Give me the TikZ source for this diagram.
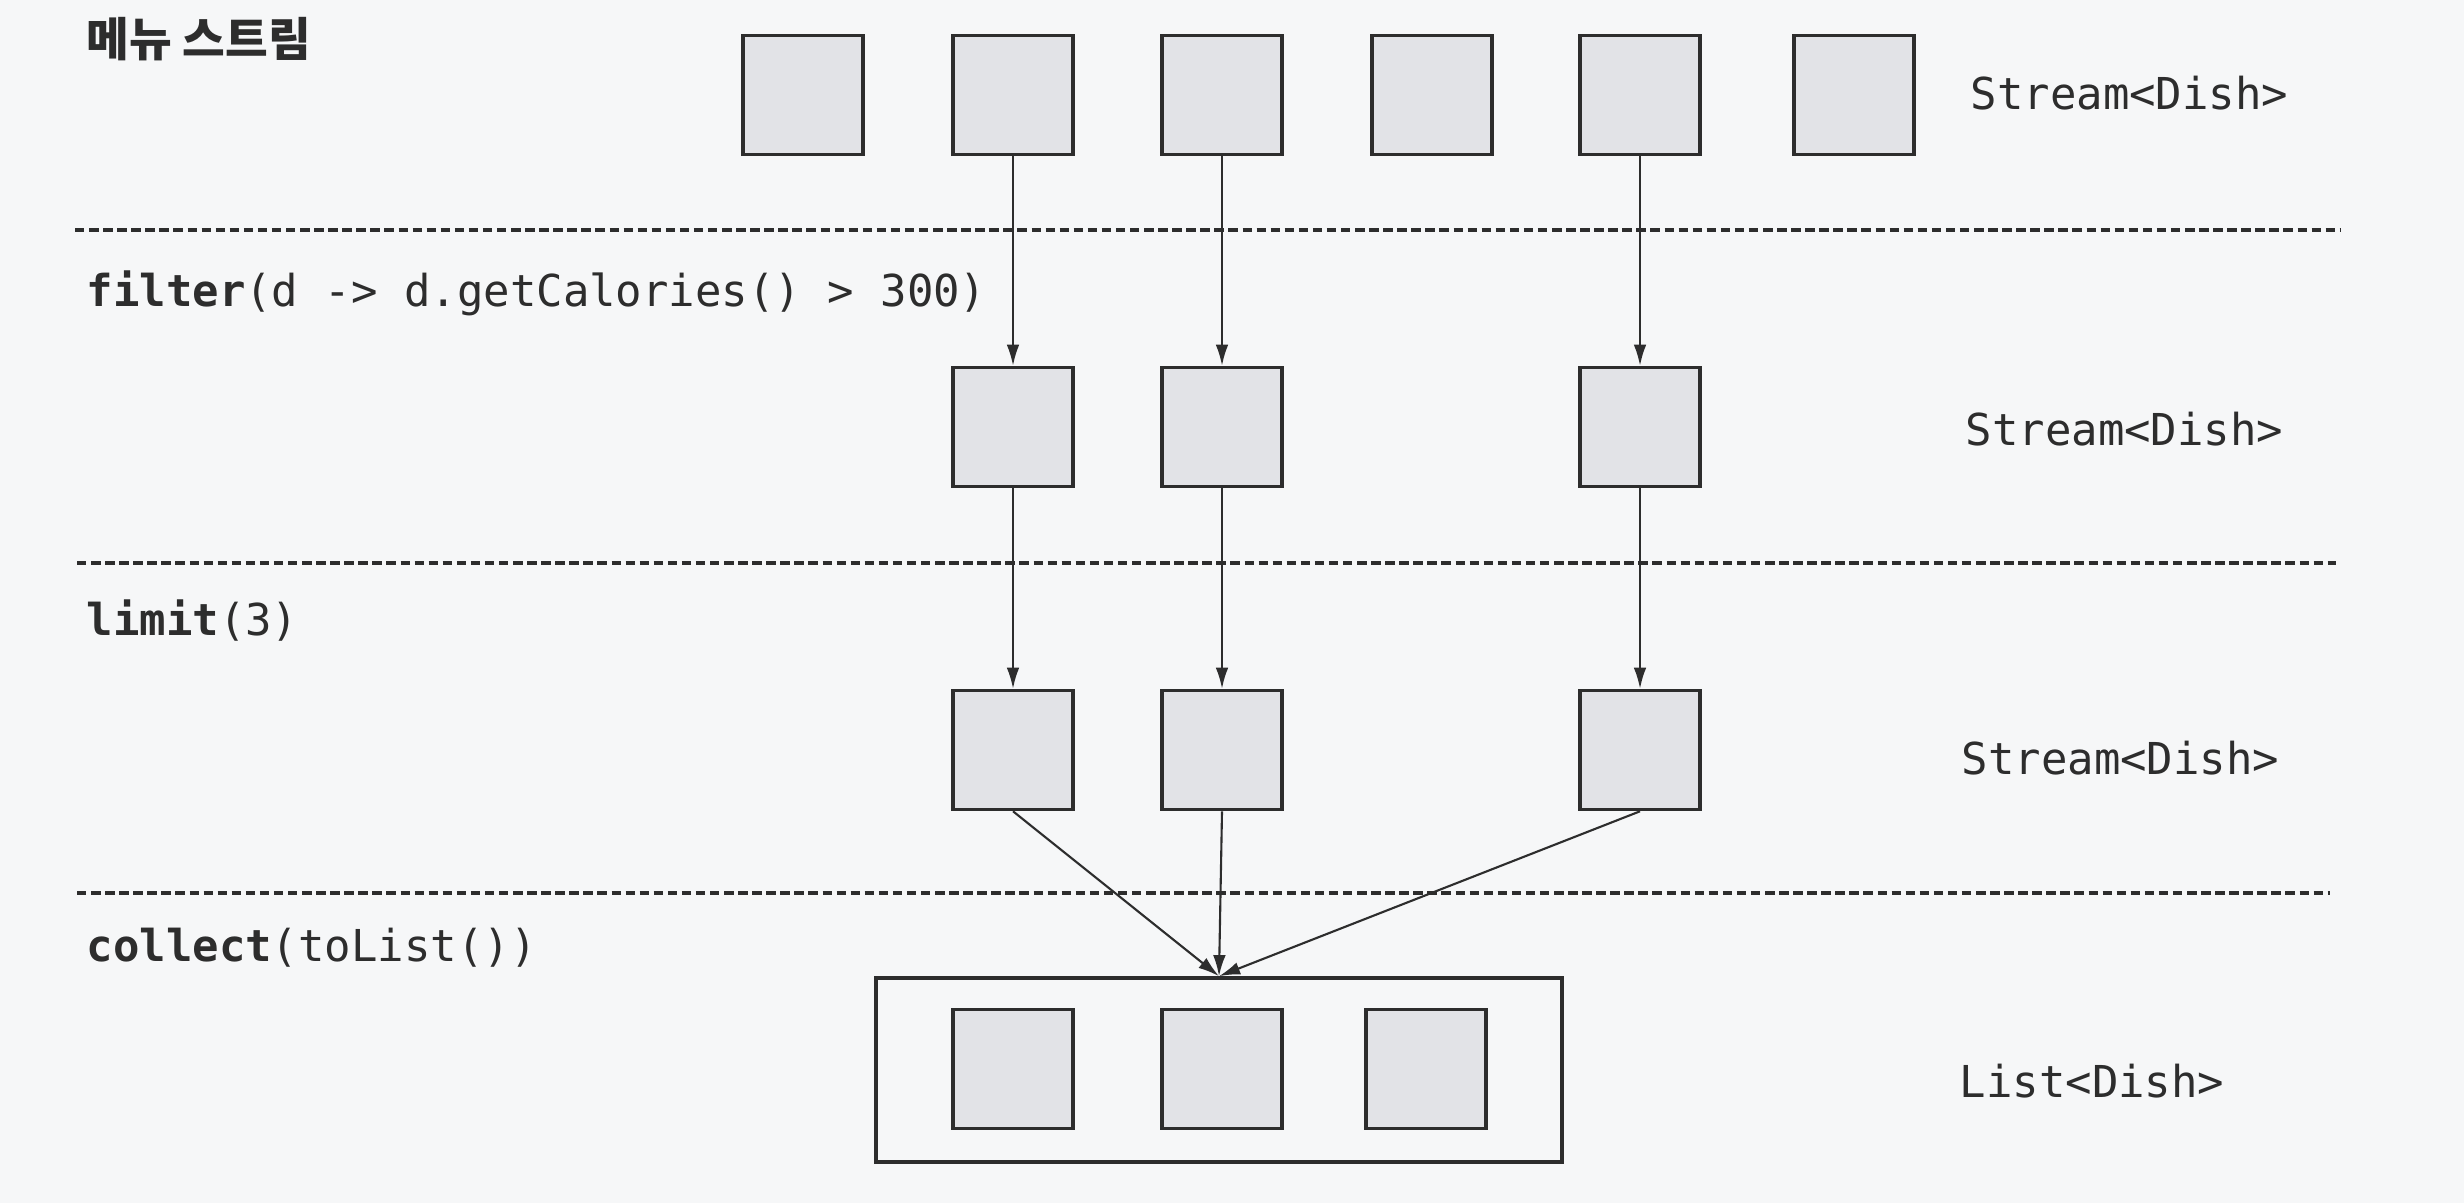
\documentclass[tikz,border=0pt]{standalone}
\usepackage{fontspec}
\setmonofont{DejaVu Sans Mono}
\newfontfamily\kofont{Noto Sans CJK KR}
\usetikzlibrary{arrows.meta}
\definecolor{paper}{RGB}{246,247,248}
\definecolor{dishfill}{RGB}{226,227,231}
\definecolor{ink}{RGB}{45,45,45}

\begin{document}
\begin{tikzpicture}[x=0.01cm, y=-0.01cm,
    dish/.style={draw=ink, fill=dishfill, line width=1pt, minimum width=1.2cm, minimum height=1.19cm, inner sep=0pt},
    flow/.style={draw=ink, line width=0.6pt, -{Latex[length=6pt,width=3.6pt]}},
    sep/.style={draw=ink, line width=0.9pt, dash pattern=on 2.7pt off 1.3pt},
    code/.style={anchor=base west, text=ink, inner sep=0pt, font=\ttfamily\fontsize{12.5}{15}\selectfont}]
    \fill[paper] (0,0) rectangle (2464,1203);
    \useasboundingbox (0,0) rectangle (2464,1203);

    % stages
    \node[anchor=west, text=ink, inner sep=0pt, font=\kofont\bfseries\fontsize{13.2}{16}\selectfont] (menu) at (86,39) {메뉴 스트림};
    \node[code] (filter) at (86,306) {\textbf{filter}(d -> d.getCalories() > 300)};
    \node[code] (limit) at (86,635) {\textbf{limit}(3)};
    \node[code] (collect) at (86,961) {\textbf{collect}(toList())};

    \draw[sep] (75,230) -- (2340,230);
    \draw[sep] (77,563) -- (2336,563);
    \draw[sep] (77,893) -- (2330,893);

    % dishes
    \foreach \x [count=\i] in {803,1013,1222,1432,1640,1854}
        \node[dish] (d\i) at (\x,95) {};
    \foreach \x [count=\i] in {1013,1222,1640}
        \node[dish] (f\i) at (\x,427) {};
    \foreach \x [count=\i] in {1013,1222,1640}
        \node[dish] (l\i) at (\x,750) {};

    \node[draw=ink, line width=1pt, minimum width=6.86cm, minimum height=1.84cm] (lst) at (1219,1070) {};
    \foreach \x [count=\i] in {1013,1222,1426}
        \node[dish] (c\i) at (\x,1069) {};

    \foreach \a/\b in {d2/f1, d3/f2, d5/f3, f1/l1, f2/l2, f3/l3}
        \draw[flow] (\a.south) -- (\b.north);
    \foreach \a in {l1,l2,l3}
        \draw[flow] (\a.south) -- (lst.north);

    % types
    \node[code] (t1) at (1970,109) {Stream<Dish>};
    \node[code] (t2) at (1965,445) {Stream<Dish>};
    \node[code] (t3) at (1961,774) {Stream<Dish>};
    \node[code] (t4) at (1959,1097) {List<Dish>};
\end{tikzpicture}
\end{document}
